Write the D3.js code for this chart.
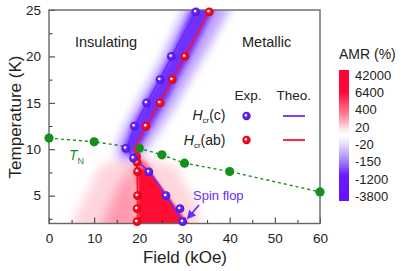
<!DOCTYPE html>
<html><head><meta charset="utf-8">
<script src="https://cdn.jsdelivr.net/npm/d3@7"></script>
<style>body{margin:0;background:#fff}svg{display:block;font-family:"Liberation Sans",Arial,sans-serif}</style>
</head><body><svg id="c" width="401" height="271"></svg>
<script>
// ---- data ----
const xTicks=[0,10,20,30,40,50,60];
const xMinor=[5,15,25,35,45,55];
const yTicks=[5,10,15,20,25];
const yMinor=[2.5,7.5,12.5,17.5,22.5];
const tnField=[0,10,20,25,30,40,60];
const tnTemp=[11.2,10.8,10.1,9.4,8.5,7.6,5.4];
const cExpField=[32.5,27.1,24.6,21.6,18.9,17.0,18.7,22.1,25.9,29.0,29.6];
const cExpTemp=[24.8,20.0,17.5,15.0,12.5,10.1,9.05,7.55,5.0,3.6,2.2];
const abExpField=[35.5,30.1,27.3,24.6,21.5,19.4,19.5,19.6,19.6,19.5,19.5];
const abExpTemp=[24.8,20.0,17.5,15.0,12.5,9.2,8.6,7.6,5.0,3.6,2.2];
const cTheoField=[32.7,27.2,24.5,21.7,19.0,17.3,18.8,22.2,26.0,29.8];
const cTheoTemp=[25,20,17.5,15,12.5,10.1,9.0,7.6,5.0,2.0];
const abTheoField=[35.6,30.1,27.3,24.5,21.5,19.1,19.2,19.5,19.6,19.6];
const abTheoTemp=[25,20,17.5,15,12.5,10.2,9.3,7.6,5.0,2.0];
// AMR map regions (field kOe, temperature K)
const negHaloField=[15.5,14.8,16.8,19.6,22.4,25.1,30.3,40.5,34.2,31.2,28.3,25.1,21.6,19.6];
const negHaloTemp=[8.8,10.2,12.5,15,17.5,20,25.5,25.5,20,17.5,15,12.5,10.0,8.8];
const negCoreField=[16.6,16.6,18.4,21.2,24.1,26.8,32.0,37.0,31.3,28.5,25.8,22.7,20.0,19.0];
const negCoreTemp=[9.5,10.2,12.5,15,17.5,20,25.5,25.5,20,17.5,15,12.5,10.2,9.3];
const posHaloField=[4,11,14,21,28,32.8,33.2];
const posHaloTemp=[1,8.0,8.8,9.0,8.2,4,1];
const posMidField=[11,15.5,19.5,19.8];
const posMidTemp=[1,6.2,8.6,1];
const posWarmField=[19.4,21.2,22.6,22.2,19.4];
const posWarmTemp=[9.0,8.8,7.8,6.4,6.4];
const posCoreField=[19.7,21.5,22.6,26.3,30.8,31.2,19.7];
const posCoreTemp=[7.8,7.9,7.5,5.0,2.0,1.0,1.0];
const amrTicks=["42000","6400","400","20","-20","-150","-1200","-3800"];
const amrStops=[0,0.17,0.36,0.46,0.5,0.55,0.7,0.8,1];
const amrColors=["#ff0030","#ff0a3a","#ff90a6","#ffeef2","#ffffff","#eee8ff","#a27cff","#6a1cff","#6410ff"];

const BLUE="#6a2cff", RED="#ff1028", GREEN="#178f1f";

const svg=d3.select("#c");
const L=49,R=320,T=10,B=223.5;
const x=d3.scaleLinear().domain([0,60]).range([L,R]);
const y=d3.scaleLinear().domain([2,25]).range([B,T]);

const defs=svg.append("defs");
defs.append("clipPath").attr("id","plot").append("rect").attr("x",L).attr("y",T).attr("width",R-L).attr("height",B-T);
function blur(id,s){defs.append("filter").attr("id",id).attr("x","-50%").attr("y","-50%").attr("width","200%").attr("height","200%")
  .append("feGaussianBlur").attr("stdDeviation",s);}
blur("b1",1.2);blur("b2",2.5);blur("b5",5);blur("b6",6);
function sphere(id,c,dark){const g=defs.append("radialGradient").attr("id",id).attr("cx","50%").attr("cy","50%").attr("r","55%").attr("fx","38%").attr("fy","38%");
  g.append("stop").attr("offset",0).attr("stop-color","#fff");
  g.append("stop").attr("offset",0.18).attr("stop-color","#fff");
  g.append("stop").attr("offset",0.34).attr("stop-color",c);
  g.append("stop").attr("offset",1).attr("stop-color",dark);}
sphere("sB",BLUE,"#4a10d0");sphere("sR",RED,"#d00010");
const cb=defs.append("linearGradient").attr("id","cbg").attr("x1",0).attr("x2",0).attr("y1",0).attr("y2",1);
amrStops.forEach((o,i)=>cb.append("stop").attr("offset",o).attr("stop-color",amrColors[i]));

// ---- AMR map ----
const map=svg.append("g").attr("clip-path","url(#plot)");
const poly=(fs,ts)=>fs.map((f,i)=>[x(f),y(ts[i])]);
const shape=d3.line().curve(d3.curveLinearClosed);
map.append("path").attr("d",shape(poly(posHaloField,posHaloTemp))).attr("fill","#ffd6de").attr("filter","url(#b5)");
map.append("path").attr("d",shape(poly(posMidField,posMidTemp))).attr("fill","#ff8ea4").attr("opacity",0.85).attr("filter","url(#b6)");
map.append("path").attr("d",shape(poly(posWarmField,posWarmTemp))).attr("fill","#ff5a78").attr("filter","url(#b2)");
map.append("path").attr("d",shape(poly(posCoreField,posCoreTemp))).attr("fill","#ff1035").attr("filter","url(#b1)");
map.append("path").attr("d",shape(poly(negHaloField,negHaloTemp))).attr("fill","#8d5cff").attr("opacity",0.55).attr("filter","url(#b5)");
map.append("path").attr("d",shape(poly(negCoreField,negCoreTemp))).attr("fill","#6c2aff").attr("opacity",0.95).attr("filter","url(#b2)");

// ---- axes ----
const ax=svg.append("g");
ax.append("g").attr("transform",`translate(0,${B})`).call(d3.axisBottom(x).tickValues(xTicks).tickSize(-6).tickPadding(10));
ax.append("g").attr("transform",`translate(0,${B})`).call(d3.axisBottom(x).tickValues(xMinor).tickSize(-3.5).tickFormat(""));
ax.append("g").attr("transform",`translate(${L},0)`).call(d3.axisLeft(y).tickValues(yTicks).tickSize(-6).tickPadding(8));
ax.append("g").attr("transform",`translate(${L},0)`).call(d3.axisLeft(y).tickValues(yMinor).tickSize(-3.5).tickFormat(""));
ax.selectAll(".domain").remove();
ax.selectAll(".tick line").attr("stroke","#333").attr("stroke-width",1);
ax.selectAll(".tick text").attr("font-size",13.5).attr("fill","#222").attr("font-family","Liberation Sans, Arial, sans-serif");
svg.append("rect").attr("x",L).attr("y",T).attr("width",R-L).attr("height",B-T).attr("fill","none").attr("stroke","#666").attr("stroke-width",1.4);

// ---- TN ----
const pts=(fs,ts)=>fs.map((f,i)=>[f,ts[i]]);
const ln=d3.line().x(d=>x(d[0])).y(d=>y(d[1]));
svg.append("path").attr("d",ln(pts(tnField,tnTemp))).attr("fill","none").attr("stroke",GREEN).attr("stroke-width",1.4).attr("stroke-dasharray","3,3");
svg.append("g").selectAll("circle").data(pts(tnField,tnTemp)).join("circle")
 .attr("cx",d=>x(d[0])).attr("cy",d=>y(d[1])).attr("r",4.6).attr("fill",GREEN);

// ---- theory lines ----
const lines=svg.append("g").attr("clip-path","url(#plot)");
lines.append("path").attr("d",ln(pts(cTheoField,cTheoTemp))).attr("fill","none").attr("stroke","#6a2cff").attr("stroke-width",1.6);
lines.append("path").attr("d",ln(pts(abTheoField,abTheoTemp))).attr("fill","none").attr("stroke","#ff1028").attr("stroke-width",1.6);

// ---- exp points ----
svg.append("g").selectAll("circle").data(pts(abExpField,abExpTemp)).join("circle")
 .attr("cx",d=>x(d[0])).attr("cy",d=>y(d[1])).attr("r",4.4).attr("fill","url(#sR)");
svg.append("g").selectAll("circle").data(pts(cExpField,cExpTemp)).join("circle")
 .attr("cx",d=>x(d[0])).attr("cy",d=>y(d[1])).attr("r",4.4).attr("fill","url(#sB)");

// ---- labels ----
const txt=(t,xx,yy,fs,fill,anchor)=>svg.append("text").attr("x",xx).attr("y",yy).attr("font-size",fs).attr("fill",fill||"#222").attr("text-anchor",anchor||"start").text(t);
txt("Insulating",75,47,14.5);
txt("Metallic",242,47,14.5);
txt("Exp.",234.5,100,13.5);
txt("Theo.",276.5,100,13.5);
function hcr(label,xx,yy){const t=svg.append("text").attr("x",xx).attr("y",yy).attr("font-size",14).attr("fill","#222").attr("text-anchor","end");
 t.append("tspan").attr("font-style","italic").text("H");
 t.append("tspan").attr("font-size",8).attr("dy",3).text("cr");
 t.append("tspan").attr("dy",-3).text(label);}
hcr("(c)",225.5,120);hcr("(ab)",225.5,145);
svg.append("circle").attr("cx",246.5).attr("cy",116).attr("r",4.2).attr("fill","url(#sB)");
svg.append("circle").attr("cx",246.5).attr("cy",140).attr("r",4.2).attr("fill","url(#sR)");
svg.append("line").attr("x1",283).attr("x2",305).attr("y1",116).attr("y2",116).attr("stroke",BLUE).attr("stroke-width",1.8);
svg.append("line").attr("x1",283).attr("x2",305).attr("y1",140).attr("y2",140).attr("stroke",RED).attr("stroke-width",1.8);
const tn=svg.append("text").attr("x",69).attr("y",160).attr("font-size",14).attr("fill",GREEN);
tn.append("tspan").attr("font-style","italic").text("T");
tn.append("tspan").attr("font-size",9).attr("dy",4).text("N");
txt("Spin flop",193,200,13,"#6a2cff");
defs.append("marker").attr("id","ah").attr("viewBox","0 0 10 10").attr("refX",8).attr("refY",5).attr("markerWidth",5).attr("markerHeight",5).attr("orient","auto")
 .append("path").attr("d","M0,0L10,5L0,10z").attr("fill","#6a2cff");
svg.append("line").attr("x1",199).attr("y1",205).attr("x2",188).attr("y2",218).attr("stroke","#6a2cff").attr("stroke-width",1.8).attr("marker-end","url(#ah)");
txt("Field (kOe)",185,263,17,"#222","middle");
svg.append("text").attr("transform","translate(21,117) rotate(-90)").attr("text-anchor","middle").attr("font-size",17).attr("fill","#222").text("Temperature (K)");

// ---- colorbar ----
const CB0=70,CB1=201;
svg.append("rect").attr("x",339).attr("y",CB0).attr("width",10).attr("height",CB1-CB0).attr("fill","url(#cbg)");
const cs=d3.scalePoint().domain(amrTicks).range([75,196.5]);
svg.append("g").selectAll("text").data(amrTicks).join("text").attr("x",355).attr("y",d=>cs(d)+4.5).attr("font-size",13).attr("fill","#222").text(d=>d);
txt("AMR (%)",339,59,14);
</script></body></html>
